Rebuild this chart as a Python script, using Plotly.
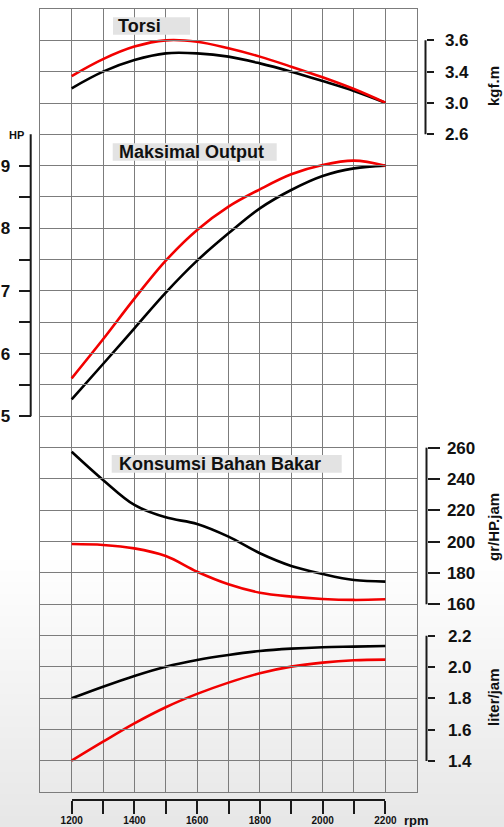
import plotly.graph_objects as go

# ---------------- data ----------------
rpm = [1200, 1300, 1400, 1500, 1600, 1700, 1800, 1900, 2000, 2100, 2200]

torque_red = [3.372, 3.480, 3.560, 3.600, 3.591, 3.549, 3.496, 3.432, 3.364, 3.289, 3.202]
torque_black = [3.294, 3.400, 3.474, 3.517, 3.517, 3.496, 3.453, 3.400, 3.340, 3.277, 3.202]

hp_red = [5.606, 6.229, 6.878, 7.484, 7.973, 8.346, 8.622, 8.862, 9.010, 9.080, 9.000]
hp_black = [5.272, 5.835, 6.404, 6.974, 7.484, 7.920, 8.319, 8.612, 8.835, 8.957, 9.000]

fuel_red = [198.5, 197.9, 195.7, 190.8, 180.8, 172.8, 167.4, 164.9, 163.4, 162.8, 163.2]
fuel_black = [257.4, 239.4, 223.4, 215.5, 211.3, 203.2, 192.6, 184.5, 179.4, 175.5, 174.5]

liter_red = [1.402, 1.523, 1.640, 1.743, 1.828, 1.900, 1.960, 2.002, 2.028, 2.043, 2.047]
liter_black = [1.800, 1.874, 1.943, 2.002, 2.045, 2.077, 2.102, 2.117, 2.126, 2.130, 2.134]

torque_ticks = [3.6, 3.4, 3.2, 3.0]
torque_labels = ["3.6", "3.4", "3.0", "2.6"]
hp_ticks = [5, 5.5, 6, 6.5, 7, 7.5, 8, 8.5, 9]
hp_labels = ["5", "", "6", "", "7", "", "8", "", "9"]
fuel_ticks = [160, 180, 200, 220, 240, 260]
fuel_labels = ["160", "180", "200", "220", "240", "260"]
liter_ticks = [1.4, 1.6, 1.8, 2.0, 2.2]
liter_labels = ["1.4", "1.6", "1.8", "2.0", "2.2"]
rpm_ticks = [1200, 1300, 1400, 1500, 1600, 1700, 1800, 1900, 2000, 2100, 2200]
rpm_labels = ["1200", "", "1400", "", "1600", "", "1800", "", "2000", "", "2200"]

titles = ["Torsi", "Maksimal Output", "Konsumsi Bahan Bakar"]
unit_titles = ["kgf.m", "gr/HP.jam", "liter/jam"]

# ---------------- layout helpers ----------------
W, H = 504, 827
GX0, GX1 = 40.3, 416.7
GY0, GY1 = 9.0, 792.3
CELL = (GY1 - GY0) / 25.0
FONT = "Liberation Sans"
RED = "#f20000"
BLACK = "#000000"
AXC = "#1a1a1a"
GRIDC = "#7c7c7c"


def fx(p):
    return p / W


def fy(p):
    return 1 - p / H


def rowy(r):
    return GY0 + r * CELL


def ydom(r_top, r_bot):
    return [fy(rowy(r_bot)), fy(rowy(r_top))]


fig = go.Figure()

# grid subplot and bottom rpm axis (empty traces establish the subplots)
fig.add_trace(go.Scatter(x=[], y=[], xaxis="x", yaxis="y", showlegend=False, hoverinfo="skip"))
fig.add_trace(go.Scatter(x=[], y=[], xaxis="x2", yaxis="y", showlegend=False, hoverinfo="skip"))

LW = 2.6
pairs = [
    ("y2", torque_red, torque_black),
    ("y3", hp_red, hp_black),
    ("y4", fuel_red, fuel_black),
    ("y5", liter_red, liter_black),
]
for yax, red, black in pairs:
    fig.add_trace(go.Scatter(x=rpm, y=black, xaxis="x", yaxis=yax, mode="lines",
                             line=dict(color=BLACK, width=LW, shape="spline", smoothing=1.0),
                             showlegend=False, hoverinfo="skip"))
    fig.add_trace(go.Scatter(x=rpm, y=red, xaxis="x", yaxis=yax, mode="lines",
                             line=dict(color=RED, width=LW, shape="spline", smoothing=1.0),
                             showlegend=False, hoverinfo="skip"))

tickfont = dict(family=FONT, size=17, color="#111111", weight="bold")


def data_axis(domain, rng, tickvals, ticktext, pos, side, ticklen, standoff):
    return dict(domain=domain, range=rng, anchor="free", position=pos, side=side,
                automargin=False, showgrid=False, zeroline=False, showline=False,
                ticks="outside", ticklen=ticklen, tickwidth=2, tickcolor=AXC,
                tickvals=tickvals, ticktext=ticktext, tickfont=tickfont,
                ticklabelstandoff=standoff, fixedrange=True)


fig.update_layout(
    template="none",
    width=W, height=H, autosize=False,
    margin=dict(l=0, r=0, t=0, b=0, pad=0, autoexpand=False),
    paper_bgcolor="#ffffff",
    plot_bgcolor="rgba(0,0,0,0)",
    xaxis=dict(domain=[fx(GX0), fx(GX1)], range=[1100, 2300], anchor="y", automargin=False,
               dtick=100, tick0=1100, showgrid=True, gridcolor=GRIDC, gridwidth=1.3,
               showticklabels=False, ticks="", zeroline=False, fixedrange=True,
               showline=True, mirror=True, linecolor=GRIDC, linewidth=1.3),
    yaxis=dict(domain=[fy(GY1), fy(GY0)], range=[0, 25], anchor="x", automargin=False,
               dtick=1, tick0=0, showgrid=True, gridcolor=GRIDC, gridwidth=1.3,
               showticklabels=False, ticks="", zeroline=False, fixedrange=True,
               showline=True, mirror=True, linecolor=GRIDC, linewidth=1.3),
    xaxis2=dict(domain=[fx(71.7), fx(385.4)], range=[1200, 2200], anchor="free",
                position=fy(800), side="bottom", automargin=False, fixedrange=True,
                showgrid=False, zeroline=False,
                showline=True, linecolor=AXC, linewidth=2,
                ticks="outside", ticklen=13, tickwidth=2, tickcolor=AXC,
                tickvals=rpm_ticks, ticktext=rpm_labels,
                tickfont=dict(family=FONT, size=10, color="#111111", weight="bold"),
                ticklabelstandoff=-2),
    yaxis2=data_axis(ydom(0.5, 4.5), [2.9, 3.7], torque_ticks, torque_labels,
                     fx(425.5), "right", 7, 8),
    yaxis3=data_axis(ydom(3.5, 13.5), [4.75, 9.75], hp_ticks, hp_labels,
                     fx(30.7), "left", 12, 5),
    yaxis4=data_axis(ydom(13.5, 19.5), [150, 270], fuel_ticks, fuel_labels,
                     fx(426.5), "right", 12, 4),
    yaxis5=data_axis(ydom(19.5, 24.5), [1.3, 2.3], liter_ticks, liter_labels,
                     fx(426.5), "right", 7, 10),
)

shapes = []
# soft grey background toward the bottom (many faint bands = smooth gradient)
NB = 24
for i in range(NB):
    ytop = 560 + i * (H - 560) / NB
    shapes.append(dict(type="rect", xref="paper", yref="paper", x0=0, x1=1,
                       y0=0, y1=fy(ytop), fillcolor="#a8a8a8", opacity=0.011,
                       line=dict(width=0), layer="below"))
# axis brackets drawn along each value scale
for yref, lo, hi, xp in [("y2", 3.0, 3.6, 425.5), ("y3", 5, 9.5, 30.7),
                         ("y4", 160, 260, 426.5), ("y5", 1.4, 2.2, 426.5)]:
    shapes.append(dict(type="line", xref="paper", yref=yref, x0=fx(xp), x1=fx(xp),
                       y0=lo, y1=hi, line=dict(color=AXC, width=2), layer="above"))
# grey title boxes
for (x0, x1, y0, y1) in [(113, 190, 17.3, 34.7), (112.7, 276.7, 143.3, 160.7),
                         (111.7, 341.7, 455.0, 472.7)]:
    shapes.append(dict(type="rect", xref="paper", yref="paper", x0=fx(x0), x1=fx(x1),
                       y0=fy(y1), y1=fy(y0), fillcolor="#e3e3e3",
                       line=dict(width=0), layer="above"))
fig.update_layout(shapes=shapes)

ann = []
for txt, xp, yp in zip(titles, [115.5, 116.5, 116.5], [26.0, 152.0, 463.8]):
    ann.append(dict(text=txt, xref="paper", yref="paper", x=fx(xp), y=fy(yp),
                    xanchor="left", yanchor="middle", showarrow=False,
                    font=dict(family=FONT, size=18, color="#111111", weight="bold")))
for txt, yp in zip(unit_titles, [86.0, 527.0, 697.0]):
    ann.append(dict(text=txt, xref="paper", yref="paper", x=fx(493), y=fy(yp),
                    xanchor="center", yanchor="middle", textangle=-90, showarrow=False,
                    font=dict(family=FONT, size=15, color="#111111", weight="bold")))
ann.append(dict(text="HP", xref="paper", yref="paper", x=fx(16.7), y=fy(135.5),
                xanchor="center", yanchor="middle", showarrow=False,
                font=dict(family=FONT, size=11, color="#111111", weight="bold")))
ann.append(dict(text="rpm", xref="paper", yref="paper", x=fx(416.7), y=fy(820),
                xanchor="center", yanchor="middle", showarrow=False,
                font=dict(family=FONT, size=13, color="#111111", weight="bold")))
fig.update_layout(annotations=ann)

fig.write_html("out.html",
               config={"displayModeBar": False, "staticPlot": False},
               post_script="document.body.style.margin='0';document.body.style.overflow='hidden';")
